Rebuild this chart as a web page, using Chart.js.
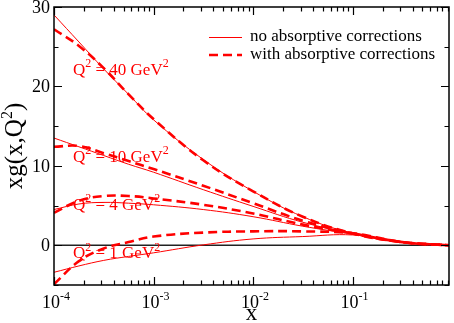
<!DOCTYPE html>
<html>
<head>
<meta charset="utf-8">
<script src="https://cdn.jsdelivr.net/npm/chart.js@4/dist/chart.umd.min.js"></script>
<style>
html, body { margin: 0; padding: 0; background: #fff; }
#wrap { width: 454px; height: 323px; }
</style>
</head>
<body>
<div id="wrap"><canvas id="chart" width="454" height="323"></canvas></div>
<script>
// x grid shared by all curves
const xValues = [1e-4, 1.78e-4, 3.16e-4, 5.62e-4, 1e-3, 3.16e-3, 1e-2, 3.16e-2, 0.1, 0.316, 0.93];

// xg(x,Q^2) without / with absorptive corrections
const q40Plain  = [29.0, 25.6, 22.2, 19.0, 15.8, 10.8, 6.8, 3.6, 1.5, 0.4, 0.0];
const q40Absorb = [27.2, 25.1, 22.3, 19.0, 15.9, 10.7, 6.8, 3.6, 1.5, 0.4, 0.0];
const q10Plain  = [13.5, 12.4, 11.3, 10.2, 9.2, 7.0, 4.9, 2.9, 1.5, 0.4, 0.0];
const q10Absorb = [12.4, 12.5, 11.6, 10.6, 9.6, 7.5, 5.3, 3.1, 1.5, 0.4, 0.0];
const q4Plain   = [4.5, 5.2, 5.4, 5.3, 5.1, 4.5, 3.6, 2.4, 1.4, 0.4, 0.0];
const q4Absorb  = [4.1, 5.6, 6.2, 6.2, 5.9, 5.1, 4.0, 2.6, 1.5, 0.4, 0.0];
const q1Plain   = [-3.4, -2.6, -1.9, -1.4, -0.95, 0.05, 0.8, 1.1, 1.3, 0.4, 0.0];
const q1Absorb  = [-4.9, -2.0, -0.4, 0.4, 1.1, 1.6, 1.75, 1.75, 1.5, 0.4, 0.0];

const q2Values = ['40', '10', '4', '1'];
const legendLabels = ['no absorptive corrections', 'with absorptive corrections'];

const xMajorTicks = [1e-4, 1e-3, 1e-2, 1e-1];
const xTickExponents = ['-4', '-3', '-2', '-1'];
const yMajorTicks = [0, 10, 20, 30];
const yMinorTicks = [-5, 5, 15, 25];

const RED = '#ff0000';
const SERIF = '"Liberation Serif", "Times New Roman", serif';

function pts(ys) {
    return ys.map((y, i) => ({ x: xValues[i], y: y }));
}

function plainSet(ys) {
    return { data: pts(ys), borderColor: RED, borderWidth: 1, pointRadius: 0, tension: 0.4, fill: false };
}

function absorbSet(ys) {
    return { data: pts(ys), borderColor: RED, borderWidth: 2.6, borderDash: [9, 5], pointRadius: 0, tension: 0.4, fill: false };
}

// draw text with superscript pieces: parts = [[text, isSup], ...]
function drawParts(ctx, parts, x, y, size, supSize, align) {
    let total = 0;
    parts.forEach(([t, sup]) => {
        ctx.font = (sup ? supSize : size) + 'px ' + SERIF;
        total += ctx.measureText(t).width;
    });
    let cx = align === 'center' ? x - total / 2 : (align === 'right' ? x - total : x);
    ctx.textAlign = 'left';
    ctx.textBaseline = 'alphabetic';
    parts.forEach(([t, sup]) => {
        ctx.font = (sup ? supSize : size) + 'px ' + SERIF;
        ctx.fillText(t, cx, sup ? y - size * 0.42 : y);
        cx += ctx.measureText(t).width;
    });
}

const frame = {
    id: 'frame',
    beforeDatasetsDraw(chart) {
        const { ctx, chartArea: a, scales: { y } } = chart;
        // zero line
        ctx.save();
        ctx.strokeStyle = '#222';
        ctx.lineWidth = 1.5;
        ctx.beginPath();
        ctx.moveTo(a.left, y.getPixelForValue(0));
        ctx.lineTo(a.right, y.getPixelForValue(0));
        ctx.stroke();
        ctx.restore();
    },
    afterDraw(chart) {
        const { ctx, chartArea: a, scales: { x, y } } = chart;
        ctx.save();
        ctx.strokeStyle = '#000';
        ctx.fillStyle = '#000';
        ctx.lineWidth = 1.5;
        ctx.strokeRect(a.left, a.top, a.right - a.left, a.bottom - a.top);

        ctx.lineWidth = 1.2;
        ctx.beginPath();
        // x ticks, inward, top and bottom
        for (let d = -4; d <= -1; d++) {
            for (let m = 1; m <= 9; m++) {
                const v = m * Math.pow(10, d);
                if (v > x.max) continue;
                const px = Math.round(x.getPixelForValue(v)) + 0.5;
                const len = m === 1 ? 8 : 4.5;
                ctx.moveTo(px, a.bottom); ctx.lineTo(px, a.bottom - len);
                ctx.moveTo(px, a.top); ctx.lineTo(px, a.top + len);
            }
        }
        // y ticks, inward, left and right
        yMajorTicks.concat(yMinorTicks).forEach(v => {
            const py = Math.round(y.getPixelForValue(v)) + 0.5;
            const len = yMajorTicks.includes(v) ? 8 : 4.5;
            ctx.moveTo(a.left, py); ctx.lineTo(a.left + len, py);
            ctx.moveTo(a.right, py); ctx.lineTo(a.right - len, py);
        });
        ctx.stroke();

        // tick labels
        xMajorTicks.forEach((v, i) => {
            drawParts(ctx, [['10', false], [xTickExponents[i], true]], x.getPixelForValue(v) + 2, a.bottom + 23, 18, 12, 'center');
        });
        ctx.font = '18px ' + SERIF;
        ctx.textAlign = 'right';
        ctx.textBaseline = 'middle';
        yMajorTicks.forEach(v => {
            ctx.fillText(String(v), a.left - 4, y.getPixelForValue(v) + 1);
        });

        // axis titles
        ctx.textAlign = 'center';
        ctx.textBaseline = 'alphabetic';
        ctx.font = '23px ' + SERIF;
        ctx.fillText('x', (a.left + a.right) / 2, 320);
        ctx.save();
        ctx.translate(22, (a.top + a.bottom) / 2);
        ctx.rotate(-Math.PI / 2);
        drawParts(ctx, [['xg(x,Q', false], ['2', true], [')', false]], 0, 0, 25, 16, 'center');
        ctx.restore();

        // legend
        ctx.strokeStyle = RED;
        ctx.lineWidth = 1;
        ctx.beginPath();
        ctx.moveTo(209, 37.5); ctx.lineTo(242, 37.5);
        ctx.stroke();
        ctx.lineWidth = 2.6;
        ctx.setLineDash([9, 5]);
        ctx.beginPath();
        ctx.moveTo(209, 55); ctx.lineTo(242, 55);
        ctx.stroke();
        ctx.setLineDash([]);
        ctx.fillStyle = '#000';
        ctx.font = '17px ' + SERIF;
        ctx.textAlign = 'left';
        ctx.textBaseline = 'middle';
        ctx.fillText(legendLabels[0], 250, 37);
        ctx.fillText(legendLabels[1], 250, 55);

        // curve labels
        const labelY = [22.25, 11.3, 5.25, -0.9];
        ctx.fillStyle = RED;
        q2Values.forEach((q, i) => {
            drawParts(ctx, [['Q', false], ['2', true], [' = ' + q + ' GeV', false], ['2', true]],
                x.getPixelForValue(1.55e-4), y.getPixelForValue(labelY[i]) + 6, 17, 12, 'left');
        });
        ctx.restore();
    }
};

new Chart(document.getElementById('chart'), {
    type: 'line',
    data: {
        datasets: [
            plainSet(q40Plain), absorbSet(q40Absorb),
            plainSet(q10Plain), absorbSet(q10Absorb),
            plainSet(q4Plain), absorbSet(q4Absorb),
            plainSet(q1Plain), absorbSet(q1Absorb)
        ]
    },
    options: {
        responsive: false,
        animation: false,
        devicePixelRatio: 1,
        layout: { padding: { left: 54, top: 7, right: 5, bottom: 38 } },
        plugins: { legend: { display: false }, tooltip: { enabled: false } },
        scales: {
            x: { type: 'logarithmic', min: 1e-4, max: 0.93, display: false },
            y: { type: 'linear', min: -5, max: 30, display: false }
        }
    },
    plugins: [frame]
});
</script>
</body>
</html>
